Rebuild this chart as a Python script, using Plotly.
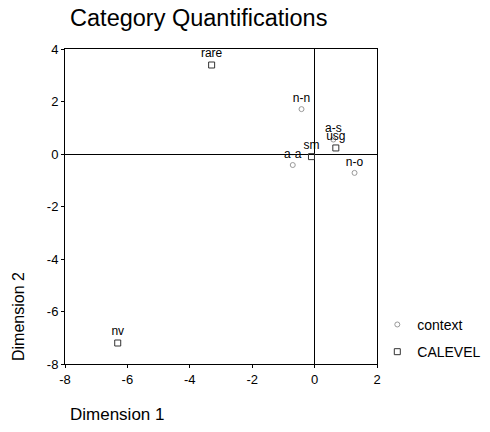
import plotly.graph_objects as go

ctx_labels = ["n-n", "a-a", "n-o", "a-s"]
ctx_x = [-0.42, -0.7, 1.28, 0.6]
ctx_y = [1.71, -0.42, -0.72, 0.55]

cal_labels = ["rare", "nv", "sm", "usg"]
cal_x = [-3.3, -6.31, -0.1, 0.68]
cal_y = [3.39, -7.2, -0.1, 0.23]

ticks_x = [-8, -6, -4, -2, 0, 2]
ticks_y = [-8, -6, -4, -2, 0, 2, 4]

font = "Liberation Sans, Arial, sans-serif"

fig = go.Figure()
fig.add_trace(go.Scatter(
    x=ctx_x, y=ctx_y, text=ctx_labels, mode="markers+text", name="context",
    legendgroup="g1",
    textposition="top center", textfont=dict(size=12, color="black", family=font),
    marker=dict(symbol="circle-open", size=5, color="#999999", line=dict(width=1)),
))
fig.add_trace(go.Scatter(
    x=cal_x, y=cal_y, text=cal_labels, mode="markers+text", name="CALEVEL",
    legendgroup="g2",
    textposition="top center", textfont=dict(size=12, color="black", family=font),
    marker=dict(symbol="square-open", size=6, color="#333333", line=dict(width=1)),
))

axis_common = dict(
    showgrid=False, zeroline=True, zerolinecolor="black", zerolinewidth=1,
    showline=True, linecolor="black", linewidth=1, mirror=True,
    ticks="outside", ticklen=3, tickcolor="black",
    tickfont=dict(size=13, color="black", family=font),
)
fig.update_xaxes(range=[-8, 2], tickvals=ticks_x,
                 ticktext=[str(v) for v in ticks_x], **axis_common)
fig.update_yaxes(range=[-8, 4], tickvals=ticks_y,
                 ticktext=[str(v) for v in ticks_y], **axis_common)

fig.update_layout(
    width=490, height=432,
    margin=dict(l=65, r=113, t=49, b=68, autoexpand=False),
    plot_bgcolor="white", paper_bgcolor="white",
    font=dict(family=font, color="black"),
    title=dict(text="Category Quantifications", x=0.143, xanchor="left",
               y=0.958, yanchor="middle", font=dict(size=23.5, color="black", family=font)),
    legend=dict(xref="container", yref="container", x=0.77, y=0.285,
                xanchor="left", yanchor="top",
                font=dict(size=14, color="black", family=font),
                bgcolor="rgba(0,0,0,0)", tracegroupgap=6, itemwidth=30),
    showlegend=True,
    annotations=[
        dict(text="Dimension 1", xref="paper", yref="paper", x=0.01, y=-0.123,
             xanchor="left", yanchor="top", showarrow=False,
             font=dict(size=17, color="black", family=font)),
        dict(text="Dimension 2", xref="paper", yref="paper", x=-0.151, y=0.152,
             xanchor="center", yanchor="middle", textangle=-90, showarrow=False,
             font=dict(size=16, color="black", family=font)),
    ],
)

fig.write_html("out.html", config={"displayModeBar": False},
               post_script="document.body.style.margin='0';")
